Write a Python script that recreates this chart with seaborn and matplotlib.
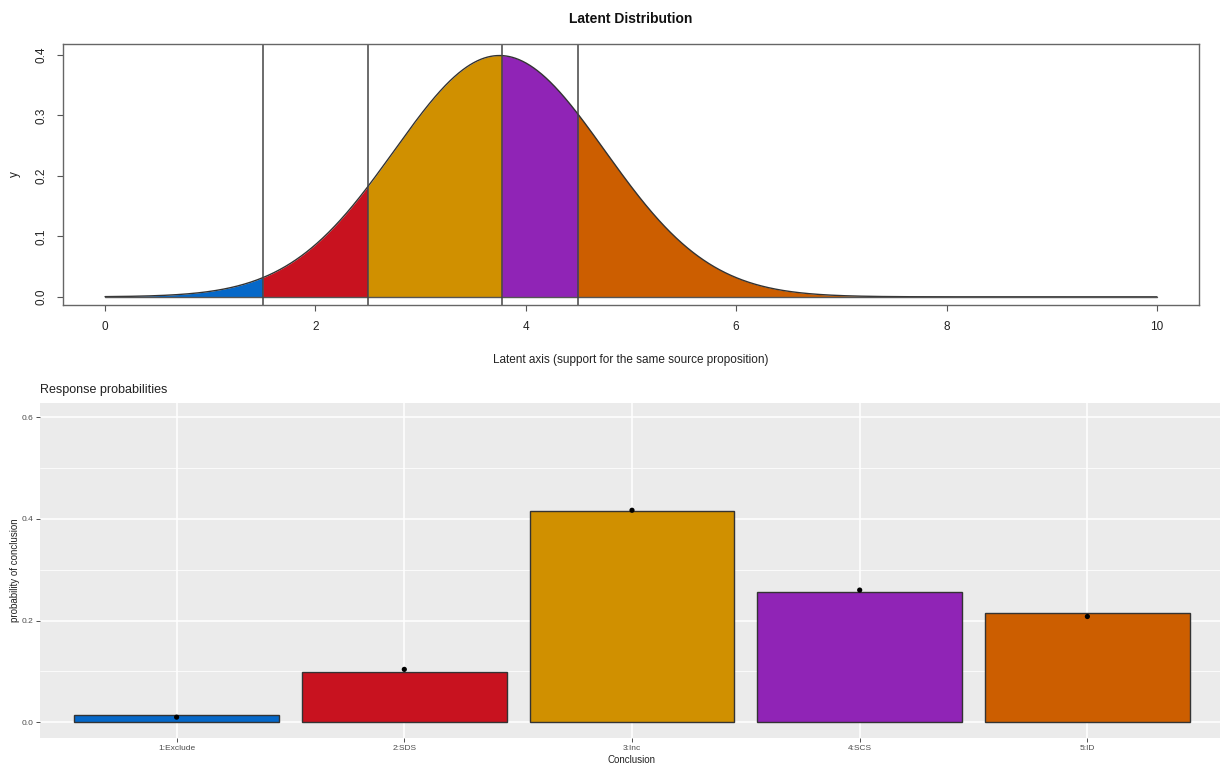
import numpy as np
import pandas as pd
import matplotlib
matplotlib.use("Agg")
import matplotlib.pyplot as plt
import seaborn as sns

# Latent normal model
latent_mean = 3.75
latent_sd = 1.0
thresholds = [1.5, 2.5, 3.77, 4.5]

# Response categories and probabilities
categories = ["1:Exclude", "2:SDS", "3:Inc", "4:SCS", "5:ID"]
bar_probs = [0.014, 0.099, 0.415, 0.257, 0.215]
point_probs = [0.010, 0.104, 0.417, 0.260, 0.208]
colors = ["#0568C9", "#C8121F", "#D09000", "#9024B6", "#CC5E00"]

sns.set_theme(style="white")
plt.rcParams["font.family"] = ["Liberation Sans", "DejaVu Sans"]

fig = plt.figure(figsize=(12.2, 7.67), dpi=100)

# ---------------- Latent distribution ----------------
ax1 = fig.add_axes([63 / 1220, 1 - 305 / 767, 1136 / 1220, 261 / 767])
x = np.linspace(0, 10, 2001)
y = np.exp(-0.5 * ((x - latent_mean) / latent_sd) ** 2) / (latent_sd * np.sqrt(2 * np.pi))
edges = [0] + thresholds + [10]
for i, c in enumerate(colors):
    m = (x >= edges[i]) & (x <= edges[i + 1])
    ax1.fill_between(x[m], 0, y[m], color=c, linewidth=0)
sns.lineplot(x=x, y=y, ax=ax1, color="#333333", linewidth=1.0)
ax1.plot([0, 10], [0, 0], color="#555555", linewidth=1.0)
for t in thresholds:
    ax1.axvline(t, color="#444444", linewidth=1.1)
ax1.set_xlim(-0.4, 10.4)
ax1.set_ylim(-0.0135, 0.418)
ax1.set_xticks([0, 2, 4, 6, 8, 10])
ax1.set_yticks([0.0, 0.1, 0.2, 0.3, 0.4])
ax1.set_yticklabels(["0.0", "0.1", "0.2", "0.3", "0.4"], rotation=90, va="center")
ax1.tick_params(axis="both", which="both", direction="out", length=4.5, width=0.8,
                color="#555555", labelsize=8.5, labelcolor="#222222", pad=7,
                bottom=True, left=True)
for s in ax1.spines.values():
    s.set_color("#666666")
    s.set_linewidth(1.0)
ax1.set_xlabel("Latent axis (support for the same source proposition)", fontsize=8.5,
               color="#222222", labelpad=15)
ax1.set_ylabel("y", fontsize=8.5, color="#222222", labelpad=10)
ax1.set_title("Latent Distribution", fontsize=10, fontweight="bold", color="#111111", pad=15)

# ---------------- Response probabilities ----------------
ax2 = fig.add_axes([40 / 1220, 1 - 738 / 767, 1184 / 1220, 335 / 767])
ax2.set_facecolor("#EBEBEB")
df = pd.DataFrame({"Conclusion": categories, "prob": bar_probs, "obs": point_probs})
sns.barplot(data=df, x="Conclusion", y="prob", hue="Conclusion", palette=colors,
            saturation=1, legend=False, width=0.9, edgecolor="#333333", linewidth=1.0,
            ax=ax2, zorder=3)
sns.scatterplot(data=df, x="Conclusion", y="obs", color="black", s=14,
                edgecolor="none", ax=ax2, zorder=4)
ax2.set_xlim(-0.6, 4.6)
ax2.set_ylim(-0.031, 0.628)
ax2.set_yticks([0.0, 0.2, 0.4, 0.6])
ax2.set_yticks([0.1, 0.3, 0.5], minor=True)
ax2.set_yticklabels(["0.0", "0.2", "0.4", "0.6"])
ax2.grid(True, which="major", color="white", linewidth=1.1, zorder=0)
ax2.grid(True, which="minor", axis="y", color="white", linewidth=0.55, zorder=0)
ax2.set_axisbelow(True)
for s in ax2.spines.values():
    s.set_visible(False)
ax2.tick_params(axis="both", which="major", direction="out", length=3, width=0.6,
                color="#333333", labelsize=6, labelcolor="#4D4D4D", pad=2,
                bottom=True, left=True)
ax2.tick_params(axis="y", which="minor", length=0)
ax2.set_xlabel("Conclusion", fontsize=7, color="#222222", labelpad=2)
ax2.set_ylabel("probability of conclusion", fontsize=7, color="#222222", labelpad=1)
ax2.set_title("Response probabilities", fontsize=9, color="#222222", loc="left", pad=7)

fig.savefig("out.png", dpi=100, facecolor="white")
